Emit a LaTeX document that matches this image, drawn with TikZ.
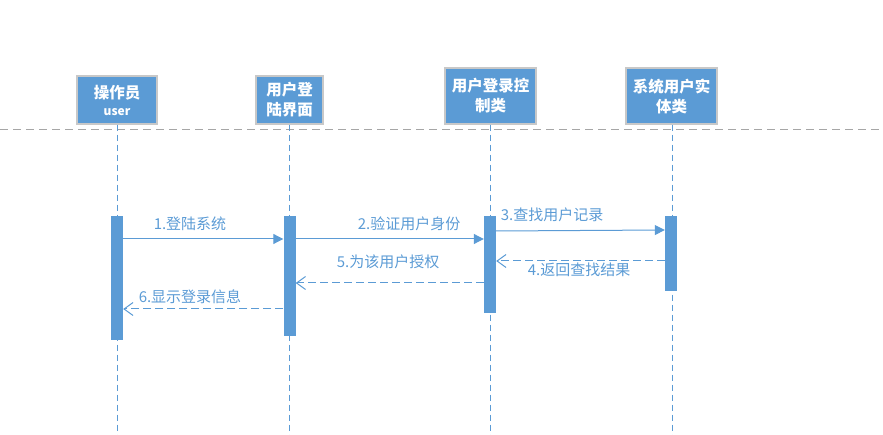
\documentclass[tikz,border=0pt]{standalone}
\usepackage{fontspec}
\setmainfont{Noto Sans CJK SC}
\usetikzlibrary{arrows.meta}
\definecolor{ublue}{HTML}{5B9BD5}
\definecolor{ugray}{HTML}{A6A6A6}
\definecolor{uedge}{HTML}{C8C8C8}
\tikzset{
  objbox/.style={draw=uedge, line width=1.2pt, fill=ublue, text=white, font=\bfseries\fontsize{15.5}{20}\selectfont, align=center, inner sep=0pt, minimum height=#1},
  lifeline/.style={draw=ublue, line width=0.8pt, dash pattern=on 6pt off 4pt},
  actbar/.style={fill=ublue, draw=none, minimum width=12pt, inner sep=0pt, minimum height=#1},
  callmsg/.style={draw=ublue, line width=1pt, -{Triangle[length=10pt,width=10pt]}},
  retmsg/.style={draw=ublue, line width=1pt, dash pattern=on 8pt off 4pt, -{Straight Barb[length=9pt,width=13pt,line width=1pt]}},
  msglabel/.style={text=ublue, font=\fontsize{15}{18}\selectfont, inner sep=0pt}
}
\begin{document}
\begin{tikzpicture}[x=1pt,y=-1pt]
\useasboundingbox (0,0) rectangle (883,435);
% separator
\draw[ugray, line width=0.9pt, dash pattern=on 8pt off 5pt] (0,129) -- (883,129);
% object boxes
\node[objbox=48pt, minimum width=80pt] (o1) at (117,100) {操作员\\[-3pt]{\fontsize{12}{14}\selectfont user}};
\node[objbox=48pt, minimum width=67pt] (o2) at (289.5,100) {用户登\\陆界面};
\node[objbox=56pt, minimum width=91pt] (o3) at (490.5,96) {用户登录控\\制类};
\node[objbox=56pt, minimum width=91pt] (o4) at (671.5,96) {系统用户实\\体类};
% lifeline ends
\coordinate (e1) at (117,435);
\coordinate (e2) at (289.5,435);
\coordinate (e3) at (490,435);
\coordinate (e4) at (672,435);
\draw[lifeline] (o1.south -| e1) -- (e1);
\draw[lifeline] (o2.south -| e2) -- (e2);
\draw[lifeline] (o3.south -| e3) -- (e3);
\draw[lifeline] (o4.south -| e4) -- (e4);
% activation bars
\node[actbar=124pt] (b1) at (117,278) {};
\node[actbar=120pt] (b2) at (289.5,276) {};
\node[actbar=97pt] (b3) at (490,264.5) {};
\node[actbar=75pt] (b4) at (671,253.5) {};
% messages
\draw[callmsg] (b1.east |- 0,239) -- (b2.west |- 0,239);
\draw[callmsg] (b2.east |- 0,239) -- (b3.west |- 0,239);
\draw[callmsg] (b3.east |- 0,231) -- (b4.west |- 0,230);
\draw[retmsg] (b4.west |- 0,261) -- (b3.east |- 0,261);
\draw[retmsg] (b3.west |- 0,283) -- (b2.east |- 0,283);
\draw[retmsg] (b2.west |- 0,309) -- (b1.east |- 0,309);
% labels
\node[msglabel] (l1) at (190,224) {1.登陆系统};
\node[msglabel] (l2) at (409,224) {2.验证用户身份};
\node[msglabel] (l3) at (552,215) {3.查找用户记录};
\node[msglabel] (l4) at (579,270) {4.返回查找结果};
\node[msglabel] (l5) at (388,262) {5.为该用户授权};
\node[msglabel] (l6) at (190,297) {6.显示登录信息};
\end{tikzpicture}
\end{document}
